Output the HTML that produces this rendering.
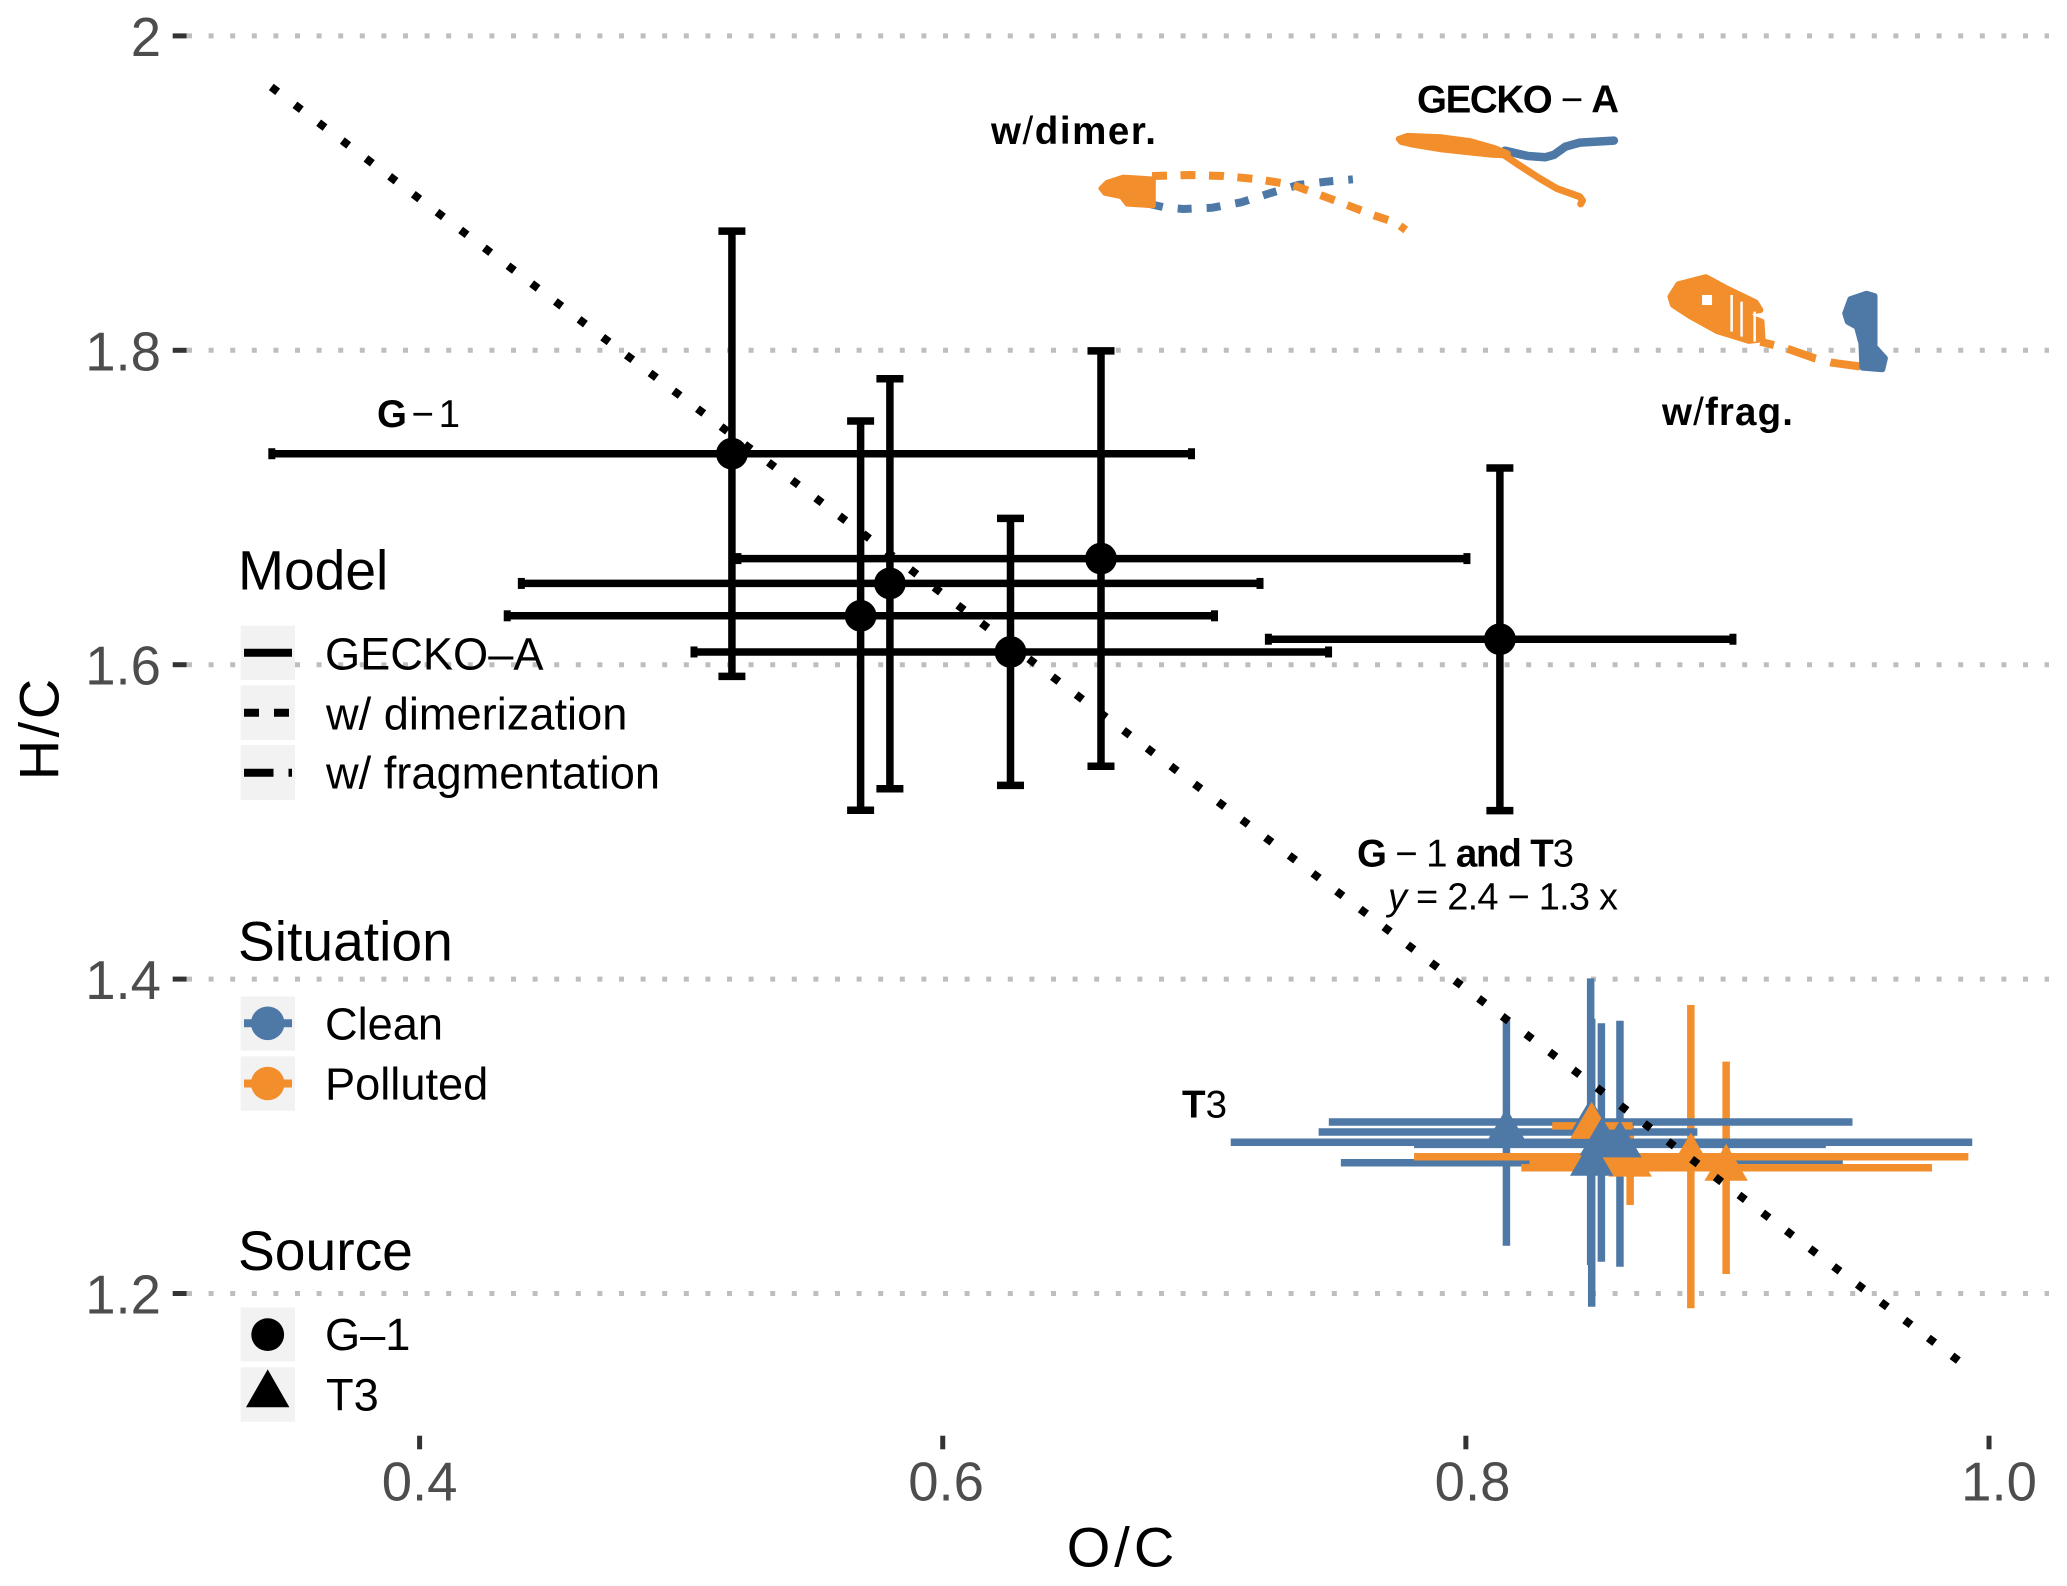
<!DOCTYPE html>
<html lang="en">
<head>
<meta charset="utf-8">
<title>H/C versus O/C chart</title>
<style>
html,body{margin:0;padding:0;background:#fff;}
svg{display:block;font-family:"Liberation Sans",Arial,sans-serif;}
.tick-x,.tick-y{font-size:54.5px;fill:#4d4d4d;}
.leg-title{font-size:55.2px;fill:#000;}
.leg-label{font-size:45.2px;fill:#000;}
.note{font-size:38.5px;fill:#000;font-weight:bold;}
.note tspan.p{font-weight:normal;}
.axis-title{font-size:56px;fill:#000;}
</style>
</head>
<body>
<svg id="chart" width="2067" height="1586" viewBox="0 0 2067 1586" xmlns="http://www.w3.org/2000/svg">
  <rect x="0" y="0" width="2067" height="1586" fill="#ffffff"/>
  <g id="grid-layer"></g>

  <g>
    <text class="leg-title" x="238" y="589.3">Model</text>
    <rect x="240.7" y="625.7" width="54.3" height="54.3" fill="#f2f2f2"/>
    <rect x="240.7" y="685.3" width="54.3" height="54.7" fill="#f2f2f2"/>
    <rect x="240.7" y="745" width="54.3" height="55" fill="#f2f2f2"/>
    <line x1="244" x2="292" y1="652.7" y2="652.7" stroke="#000" stroke-width="8"/>
    <line x1="244" x2="292" y1="712.7" y2="712.7" stroke="#000" stroke-width="8" stroke-dasharray="15 15"/>
    <line x1="244" x2="292" y1="772.7" y2="772.7" stroke="#000" stroke-width="8" stroke-dasharray="29.5 15"/>
    <text class="leg-label" x="325" y="669.3">GECKO–A</text>
    <text class="leg-label" x="326" y="729.3">w/ dimerization</text>
    <text class="leg-label" x="326" y="788.3">w/ fragmentation</text>
  </g>

  <g>
    <text class="leg-title" x="238" y="960.3">Situation</text>
    <rect x="240.7" y="996.4" width="54.3" height="54.1" fill="#f2f2f2"/>
    <rect x="240.7" y="1056.3" width="54.3" height="54.4" fill="#f2f2f2"/>
    <line x1="244" x2="292" y1="1023.3" y2="1023.3" stroke="#4e79a7" stroke-width="8"/>
    <circle cx="267.7" cy="1023.3" r="16.8" fill="#4e79a7"/>
    <line x1="244" x2="292" y1="1083.5" y2="1083.5" stroke="#f28e2b" stroke-width="8"/>
    <circle cx="267.7" cy="1083.5" r="16.8" fill="#f28e2b"/>
    <text class="leg-label" x="325" y="1039.5">Clean</text>
    <text class="leg-label" x="325" y="1099.7">Polluted</text>
  </g>

  <g>
    <text class="leg-title" x="238" y="1270.2">Source</text>
    <rect x="240.7" y="1307.4" width="54.3" height="54" fill="#f2f2f2"/>
    <rect x="240.7" y="1367.3" width="54.3" height="54.4" fill="#f2f2f2"/>
    <circle cx="267.7" cy="1334.6" r="16.4" fill="#000"/>
    <polygon points="267.7,1369.4 289.4,1407.2 246,1407.2" fill="#000"/>
    <text class="leg-label" x="325" y="1350">G–1</text>
    <text class="leg-label" x="326" y="1410.7">T3</text>
  </g>

  <g id="axis-layer"></g>
  <g id="trajectory-layer"></g>
  <g id="errorbar-layer"></g>
  <g id="point-layer"></g>
  <g id="fit-layer"></g>

  <text class="note" x="1417" y="112.3" textLength="202">GECKO<tspan class="p"> − </tspan>A</text>
  <text class="note" x="991" y="144" textLength="165">w<tspan class="p">/</tspan>dimer.</text>
  <text class="note" x="1662" y="425" textLength="131">w<tspan class="p">/</tspan>frag.</text>
  <text class="note" x="377" y="426.8" textLength="83">G<tspan class="p"> − 1</tspan></text>
  <text class="note" x="1357" y="866.7" textLength="217">G<tspan class="p"> − 1 </tspan>and T<tspan class="p">3</tspan></text>
  <text x="1388" y="909.3" font-size="38" fill="#000" textLength="230"><tspan font-style="italic">y</tspan> = 2.4 − 1.3 x</text>
  <text class="note" x="1182" y="1117.7" textLength="45">T<tspan class="p">3</tspan></text>

  <text class="axis-title" x="1122.5" y="1566.7" text-anchor="middle" letter-spacing="4">O/C</text>
  <text class="axis-title" transform="translate(58.3,728.3) rotate(-90)" text-anchor="middle" letter-spacing="2.5">H/C</text>
</svg>

<script>
// Axis ticks
const xTicks = [0.4, 0.6, 0.8, 1.0];
const xTickLabels = ['0.4', '0.6', '0.8', '1.0'];
const yTicks = [1.2, 1.4, 1.6, 1.8, 2.0];
const yTickLabels = ['1.2', '1.4', '1.6', '1.8', '2'];

// G-1 observations
const g1X    = [0.5194, 0.6605, 0.5798, 0.5686, 0.6259, 0.8130];
const g1Y    = [1.7342, 1.6675, 1.6517, 1.6311, 1.6081, 1.6162];
const g1XMin = [0.3435, 0.5217, 0.4389, 0.4335, 0.5049, 0.7245];
const g1XMax = [0.6951, 0.8004, 0.7213, 0.7039, 0.7475, 0.9021];
const g1YMin = [1.5926, 1.5354, 1.5211, 1.5074, 1.5232, 1.5072];
const g1YMax = [1.8758, 1.7996, 1.7819, 1.7550, 1.6931, 1.7251];

// T3 clean observations
const cleanX    = [0.8155, 0.8477, 0.8518, 0.8589, 0.8481];
const cleanY    = [1.3027, 1.3091, 1.2962, 1.2949, 1.2832];
const cleanXMin = [0.7437, 0.7476, 0.7101, 0.7802, 0.7522];
const cleanXMax = [0.8885, 0.9478, 0.9936, 0.9376, 0.9441];
const cleanYMin = [1.2304, 1.2181, 1.2202, 1.2170, 1.1916];
const cleanYMax = [1.3751, 1.4005, 1.3719, 1.3735, 1.3748];

// T3 polluted observations
const pollutedX    = [0.8481, 0.8628, 0.8860, 0.8995];
const pollutedY    = [1.3066, 1.2826, 1.2870, 1.2800];
const pollutedXMin = [0.8330, 0.8243, 0.7802, 0.8212];
const pollutedXMax = [0.8637, 0.9015, 0.9921, 0.9782];
const pollutedYMin = [1.2945, 1.2563, 1.1906, 1.2124];
const pollutedYMax = [1.3180, 1.3085, 1.3835, 1.3475];

// Fit line
const fitX = [0.3433, 0.9883];
const fitY = [1.9675, 1.1573];

// GECKO-A trajectories
const geckoBandX = [0.7743, 0.7776, 0.7908, 0.8018, 0.8106, 0.8160, 0.8160, 0.8106, 0.8018, 0.7908, 0.7798, 0.7753];
const geckoBandY = [1.9345, 1.9364, 1.9355, 1.9330, 1.9288, 1.9253, 1.9240, 1.9243, 1.9258, 1.9278, 1.9308, 1.9325];
const geckoTailX = [0.8127, 0.8193, 0.8281, 0.8347, 0.8435, 0.8446, 0.8439];
const geckoTailY = [1.9264, 1.9189, 1.9094, 1.9030, 1.8977, 1.8952, 1.8931];
const geckoCleanX = [0.8149, 0.8237, 0.8303, 0.8336, 0.8380, 0.8435, 0.8566];
const geckoCleanY = [1.9270, 1.9236, 1.9228, 1.9243, 1.9295, 1.9321, 1.9334];

// Dimerization trajectories
const dimerBlobX = [0.6605, 0.6628, 0.6690, 0.6805, 0.6805, 0.6705, 0.6683, 0.6620];
const dimerBlobY = [1.9030, 1.9068, 1.9102, 1.9090, 1.8920, 1.8930, 1.8977, 1.8999];
const dimerPollutedX = [0.6800, 0.6942, 0.7074, 0.7206, 0.7337, 0.7425, 0.7535, 0.7645, 0.7733, 0.7770];
const dimerPollutedY = [1.9109, 1.9115, 1.9109, 1.9088, 1.9052, 1.8999, 1.8931, 1.8861, 1.8812, 1.8765];
const dimerCleanX = [0.6789, 0.6844, 0.6921, 0.7030, 0.7140, 0.7250, 0.7359, 0.7469, 0.7568];
const dimerCleanY = [1.8931, 1.8910, 1.8899, 1.8907, 1.8941, 1.8999, 1.9052, 1.9073, 1.9088];

// Fragmentation trajectories
const fragBlobX = [0.8782, 0.8812, 0.8918, 0.8990, 0.9108, 0.9126, 0.9049, 0.9130, 0.9134, 0.9082, 0.8961, 0.8856, 0.8792];
const fragBlobY = [1.8341, 1.8420, 1.8465, 1.8400, 1.8305, 1.8256, 1.8235, 1.8182, 1.8070, 1.8060, 1.8122, 1.8218, 1.8288];
const fragSlitX = [0.8922, 0.9016, 0.9054, 0.9104];
const fragSlitTop = [1.8352, 1.8352, 1.8309, 1.8246];
const fragSlitBottom = [1.8288, 1.8119, 1.8087, 1.8055];
const fragPollutedX = [0.9126, 0.9225, 0.9334, 0.9400, 0.9510];
const fragPollutedY = [1.8055, 1.8013, 1.7949, 1.7921, 1.7896];
const fragCleanX = [0.9450, 0.9470, 0.9532, 0.9562, 0.9562, 0.9602, 0.9592, 0.9516, 0.9512, 0.9495, 0.9460];
const fragCleanY = [1.8235, 1.8325, 1.8360, 1.8345, 1.8023, 1.7949, 1.7880, 1.7890, 1.8044, 1.8150, 1.8182];

const BLUE = '#4e79a7';
const ORANGE = '#f28e2b';
const NS = 'http://www.w3.org/2000/svg';

function xScale(v) { return 419.6 + (v - 0.4) * 2615.7; }
function yScale(v) { return 1293.5 - (v - 1.2) * 1572; }

function make(tag, attrs, parent) {
  const el = document.createElementNS(NS, tag);
  for (const k in attrs) el.setAttribute(k, attrs[k]);
  parent.appendChild(el);
  return el;
}
function pts(xs, ys) {
  return xs.map(function (x, i) { return xScale(x).toFixed(1) + ',' + yScale(ys[i]).toFixed(1); }).join(' ');
}

const gridLayer = document.getElementById('grid-layer');
const axisLayer = document.getElementById('axis-layer');
const trajLayer = document.getElementById('trajectory-layer');
const barLayer = document.getElementById('errorbar-layer');
const pointLayer = document.getElementById('point-layer');
const fitLayer = document.getElementById('fit-layer');

// Grid and axes
yTicks.forEach(function (v, i) {
  const g = make('line', {x1: 187, x2: 2049, y1: yScale(v), y2: yScale(v), stroke: '#bebebe', 'stroke-width': 5, 'stroke-dasharray': '5 16.6'}, gridLayer);
  
  
  const t = make('line', {x1: 172.7, x2: 186.7, y1: yScale(v), y2: yScale(v), stroke: '#333333', 'stroke-width': 5}, axisLayer);
  
  
  const l = make('text', {x: 161, y: yScale(v) + 20, 'text-anchor': 'end', 'class': 'tick-y'}, axisLayer);
  l.textContent = yTickLabels[i];
  
  
});
xTicks.forEach(function (v, i) {
  const t = make('line', {x1: xScale(v), x2: xScale(v), y1: 1435.7, y2: 1449.3, stroke: '#333333', 'stroke-width': 5}, axisLayer);
  
  
  const l = make('text', {x: xScale(v) + (v - 0.4) * 16.7, y: 1500.7, 'text-anchor': 'middle', 'class': 'tick-x'}, axisLayer);
  l.textContent = xTickLabels[i];
  
  
});

// Trajectories
function trajLine(xs, ys, color, width, dash) {
  const attrs = {points: pts(xs, ys), fill: 'none', stroke: color, 'stroke-width': width, 'stroke-linejoin': 'round'};
  if (dash) attrs['stroke-dasharray'] = dash;
  else attrs['stroke-linecap'] = 'round';
  return make('polyline', attrs, trajLayer);
}
function trajBlob(xs, ys, color, sw) {
  return make('polygon', {points: pts(xs, ys), fill: color, stroke: color, 'stroke-width': sw, 'stroke-linejoin': 'round'}, trajLayer);
}

const s1 = trajLine(geckoCleanX, geckoCleanY, BLUE, 8.5, null);


const s2 = trajLine(geckoTailX, geckoTailY, ORANGE, 7, null);


const s3 = trajBlob(geckoBandX, geckoBandY, ORANGE, 6);



const s4 = trajLine(dimerCleanX, dimerCleanY, BLUE, 8, '14 15');


const s5 = trajLine(dimerPollutedX, dimerPollutedY, ORANGE, 8, '15 13.5');


const s6 = trajBlob(dimerBlobX, dimerBlobY, ORANGE, 5);



const s7 = trajLine(fragPollutedX, fragPollutedY, ORANGE, 8, '14 14 30 15 30 14');


const s8 = trajBlob(fragBlobX, fragBlobY, ORANGE, 6);


fragSlitX.forEach(function (v, i) {
  const slit = make('line', {x1: xScale(v), x2: xScale(v), y1: yScale(fragSlitTop[i]), y2: yScale(fragSlitBottom[i]), stroke: '#ffffff', 'stroke-width': i === 0 ? 10 : 2.5}, trajLayer);
  
  
});
const s9 = trajBlob(fragCleanX, fragCleanY, BLUE, 6);



// Error bars: verticals, then horizontals
function vBars(xs, lo, hi, color, capW, name) {
  xs.forEach(function (v, i) {
    const b = make('line', {x1: xScale(v), x2: xScale(v), y1: yScale(lo[i]), y2: yScale(hi[i]), stroke: color, 'stroke-width': 7.5}, barLayer);
    
    
    if (capW > 0) {
      [lo[i], hi[i]].forEach(function (e) {
        const c = make('line', {x1: xScale(v) - capW / 2, x2: xScale(v) + capW / 2, y1: yScale(e), y2: yScale(e), stroke: color, 'stroke-width': 7.5}, barLayer);
        
        
      });
    }
  });
}
function hBars(ys, lo, hi, color, capH, name) {
  ys.forEach(function (v, i) {
    const b = make('line', {x1: xScale(lo[i]), x2: xScale(hi[i]), y1: yScale(v), y2: yScale(v), stroke: color, 'stroke-width': 7.5}, barLayer);
    
    
    if (capH > 0) {
      [lo[i], hi[i]].forEach(function (e) {
        const c = make('line', {x1: xScale(e), x2: xScale(e), y1: yScale(v) - capH / 2, y2: yScale(v) + capH / 2, stroke: color, 'stroke-width': 7}, barLayer);
        
        
      });
    }
  });
}
vBars(cleanX, cleanYMin, cleanYMax, BLUE, 0, 't3-clean');
vBars(pollutedX, pollutedYMin, pollutedYMax, ORANGE, 0, 't3-polluted');
hBars(cleanY, cleanXMin, cleanXMax, BLUE, 0, 't3-clean');
hBars(pollutedY, pollutedXMin, pollutedXMax, ORANGE, 0, 't3-polluted');
vBars(g1X, g1YMin, g1YMax, '#000000', 27, 'g1');
hBars(g1Y, g1XMin, g1XMax, '#000000', 11, 'g1');

// Points
g1X.forEach(function (v, i) {
  const c = make('circle', {cx: xScale(v), cy: yScale(g1Y[i]), r: 15.9, fill: '#000000'}, pointLayer);
  
  
});
function triangle(xv, yv, color, name) {
  const px = xScale(xv), py = yScale(yv);
  const t = make('polygon', {points: px + ',' + (py - 24) + ' ' + (px + 21.7) + ',' + (py + 13) + ' ' + (px - 21.7) + ',' + (py + 13), fill: color}, pointLayer);
  
  
}
// The upper clean triangle sits beneath the polluted ones; the rest sit on top.
triangle(cleanX[1], cleanY[1], BLUE, 't3-clean-point');
pollutedX.forEach(function (v, i) { triangle(v, pollutedY[i], ORANGE, 't3-polluted-point'); });
cleanX.forEach(function (v, i) { if (i !== 1) triangle(v, cleanY[i], BLUE, 't3-clean-point'); });

// Fit line
const fit = make('line', {x1: xScale(fitX[0]), y1: yScale(fitY[0]), x2: xScale(fitX[1]), y2: yScale(fitY[1]), stroke: '#000000', 'stroke-width': 8, 'stroke-dasharray': '8 21.66'}, fitLayer);


</script>
</body>
</html>
